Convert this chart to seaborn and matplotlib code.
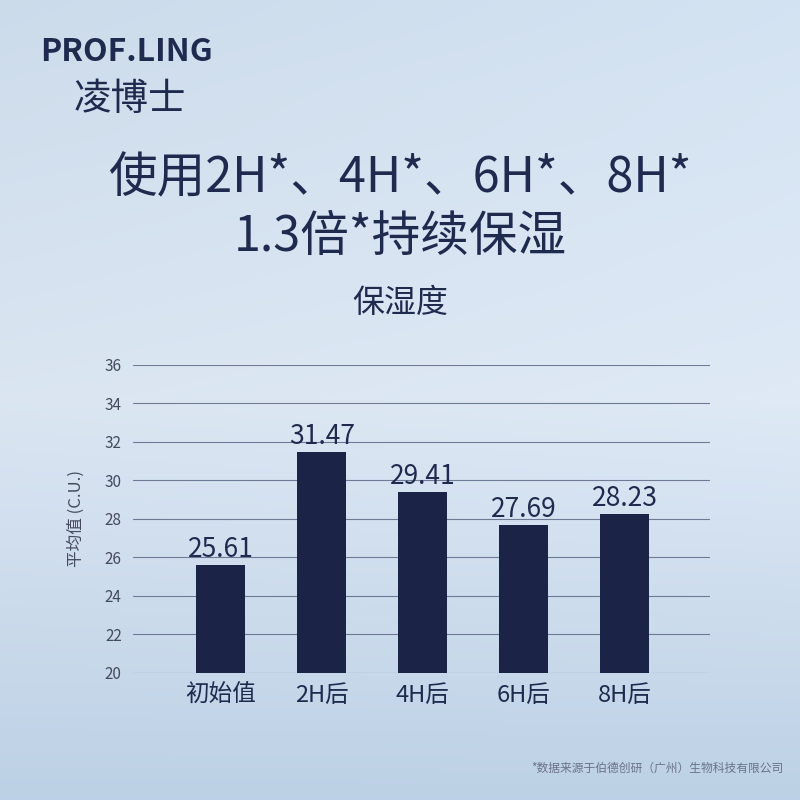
import matplotlib
matplotlib.use("Agg")
import matplotlib.pyplot as plt
import seaborn as sns
import numpy as np
import pandas as pd

categories = ["初始值", "2H后", "4H后", "6H后", "8H后"]
values = [25.61, 31.47, 29.41, 27.69, 28.23]
yticks = [20, 22, 24, 26, 28, 30, 32, 34, 36]

sns.set_theme(style="white")
plt.rcParams['font.family'] = ['Noto Sans CJK SC', 'DejaVu Sans']

fig = plt.figure(figsize=(8, 8), dpi=100)
bg = fig.add_axes([0, 0, 1, 1], zorder=-10)
yy, xx = np.mgrid[0:1:200j, 0:1:200j]
top = np.array([0.80, 0.86, 0.92])
mid = np.array([0.86, 0.90, 0.95])
bot = np.array([0.74, 0.82, 0.90])
t = yy[..., None]
img = np.where(t < 0.5, top + (mid - top) * (t / 0.5), mid + (bot - mid) * ((t - 0.5) / 0.5))
img = img + 0.03 * xx[..., None] * (1 - yy[..., None])
bg.imshow(np.clip(img, 0, 1), aspect="auto", extent=[0, 1, 0, 1])
bg.axis("off")

navy = "#1b2447"
txt = "#1f2a4f"
df = pd.DataFrame({"cat": categories, "val": values})
ax = fig.add_axes([0.166, 0.159, 0.721, 0.385])
ax.patch.set_alpha(0)
sns.barplot(data=df, x="cat", y="val", color=navy, width=0.49, ax=ax,
            saturation=1, zorder=3, linewidth=0)
ax.set_xlim(-0.87, 4.84)
ax.set_ylim(20, 36)
ax.set_yticks(yticks)
ax.set_yticklabels([str(v) for v in yticks], fontsize=11, color="#444a5e")
ax.grid(axis="y", color="#6f7a96", linewidth=0.8, zorder=0)
for s in ax.spines.values():
    s.set_visible(False)
ax.tick_params(axis="x", labelsize=17, colors=txt, length=0, pad=8)
ax.tick_params(axis="y", length=0, pad=8)
ax.set_xlabel("")
ax.set_ylabel("平均值 (C.U.)", fontsize=12, color="#444a5e", labelpad=14)
for i, v in enumerate(values):
    ax.text(i, v + 0.1, f"{v:.2f}", ha="center", va="bottom", fontsize=19, color=txt)

fig.text(0.05, 0.935, "PROF.LING", fontsize=23, fontweight="bold", color=txt, va="center")
fig.text(0.092, 0.876, "凌博士", fontsize=27, color=txt, va="center")
fig.text(0.5, 0.777, "使用2H*、4H*、6H*、8H*", fontsize=35, color=txt, ha="center", va="center")
fig.text(0.5, 0.703, "1.3倍*持续保湿", fontsize=35, color=txt, ha="center", va="center")
fig.text(0.5, 0.621, "保湿度", fontsize=23, color=txt, ha="center", va="center")
fig.text(0.979, 0.04, "*数据来源于伯德创研（广州）生物科技有限公司", fontsize=8.5, color="#6a7288", ha="right", va="center")

fig.savefig("out.png", dpi=100)
